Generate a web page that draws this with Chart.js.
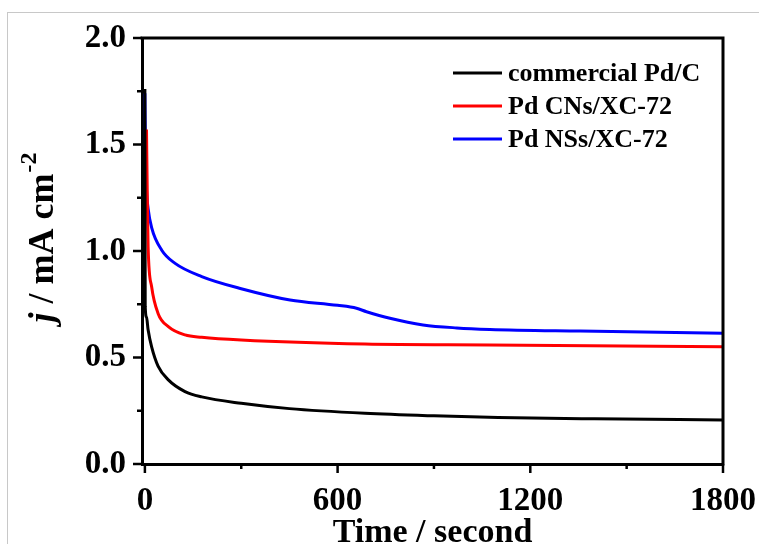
<!DOCTYPE html>
<html>
<head>
<meta charset="utf-8">
<script src="https://cdn.jsdelivr.net/npm/chart.js@4"></script>
<style>
  body { margin: 0; background: #fff; }
  #wrap { position: relative; width: 759px; height: 544px; }
  #frame { position: absolute; left: 7px; top: 12px; width: 760px; height: 540px;
           border-top: 1px solid #c8c8c8; border-left: 1px solid #c8c8c8; }
  canvas { position: absolute; left: 0; top: 0; }
</style>
</head>
<body>
<div id="wrap">
  <div id="frame"></div>
  <canvas id="ctChart" width="759" height="544"></canvas>
</div>
<script>
// Chronoamperometry curves (time in s, current density in mA cm-2)
const seriesLabels = ["commercial Pd/C", "Pd CNs/XC-72", "Pd NSs/XC-72"];
const seriesColors = ["#000000", "#ff0000", "#0000ff"];

const pdcTime = [0, 1, 5, 10, 21, 41, 73, 125, 177, 300, 450, 685, 900, 1100, 1400, 1800];
const pdcJ    = [1.76, 0.74, 0.69, 0.63, 0.55, 0.46, 0.395, 0.34, 0.315, 0.285, 0.26, 0.238, 0.226, 0.218, 0.212, 0.207];

const cnsTime = [5, 8, 10, 21, 41, 73, 125, 177, 300, 685, 1074, 1800];
const cnsJ    = [1.57, 1.2, 1.02, 0.832, 0.707, 0.645, 0.606, 0.595, 0.582, 0.563, 0.559, 0.551];

const nssTime = [0, 2, 5, 10, 21, 52, 93, 177, 300, 452, 600, 659, 690, 763, 866, 971, 1074, 1355, 1800];
const nssJ    = [1.74, 1.45, 1.29, 1.2, 1.11, 1.005, 0.943, 0.88, 0.823, 0.77, 0.745, 0.731, 0.715, 0.684, 0.653, 0.639, 0.632, 0.624, 0.614];

const xTicks = [0, 600, 1200, 1800];
const xMinorTicks = [300, 900, 1500];
const yTicks = [0, 0.5, 1.0, 1.5, 2.0];
const yMinorTicks = [0.25, 0.75, 1.25, 1.75];

const serif = "'Liberation Serif', 'Times New Roman', serif";

function toPoints(t, j) {
  return t.map((v, i) => ({ x: v, y: j[i] }));
}

// frame, ticks, axis titles and legend drawn on top of the chart
const decorPlugin = {
  id: "decor",
  afterDraw(chart) {
    const c = chart.ctx;
    const area = chart.chartArea;
    const xs = chart.scales.x;
    const ys = chart.scales.y;
    c.save();
    c.strokeStyle = "#000";
    c.lineWidth = 3;
    // top and right frame
    c.beginPath();
    c.moveTo(area.left - 1.5, area.top);
    c.lineTo(area.right, area.top);
    c.lineTo(area.right, area.bottom + 1.5);
    c.stroke();

    // x ticks
    c.lineWidth = 2.5;
    for (const v of xTicks.concat(xMinorTicks)) {
      const px = xs.getPixelForValue(v);
      const len = xTicks.includes(v) ? 9 : 5;
      c.beginPath();
      c.moveTo(px, area.bottom);
      c.lineTo(px, area.bottom + len);
      c.stroke();
    }
    // y ticks
    for (const v of yTicks.concat(yMinorTicks)) {
      const py = ys.getPixelForValue(v);
      const len = yTicks.includes(v) ? 9 : 5;
      c.beginPath();
      c.moveTo(area.left, py);
      c.lineTo(area.left - len, py);
      c.stroke();
    }

    // x title
    c.fillStyle = "#000";
    c.font = "bold 34px " + serif;
    c.textAlign = "center";
    c.textBaseline = "alphabetic";
    c.fillText("Time / second", (area.left + area.right) / 2, 542);

    // y title: j / mA cm-2, rotated
    c.save();
    c.translate(53, 238);
    c.rotate(-Math.PI / 2);
    c.textAlign = "left";
    const fJ = "italic bold 36px " + serif;
    const fMain = "bold 36px " + serif;
    const fSup = "bold 24px " + serif;
    c.font = fJ; const wJ = c.measureText("j").width;
    c.font = fMain; const wMain = c.measureText(" / mA cm").width;
    c.font = fSup; const wSup = c.measureText("-2").width;
    let x0 = -(wJ + wMain + wSup) / 2;
    c.font = fJ; c.fillText("j", x0, 0); x0 += wJ;
    c.font = fMain; c.fillText(" / mA cm", x0, 0); x0 += wMain;
    c.font = fSup; c.fillText("-2", x0 + 1, -17);
    c.restore();

    // legend
    c.font = "bold 26px " + serif;
    c.textAlign = "left";
    c.textBaseline = "middle";
    chart.data.datasets.forEach((ds, i) => {
      const y = 73 + i * 33;
      c.strokeStyle = ds.borderColor;
      c.lineWidth = 3;
      c.beginPath();
      c.moveTo(453, y);
      c.lineTo(502, y);
      c.stroke();
      c.fillStyle = "#000";
      c.fillText(ds.label, 508, y + 1);
    });
    c.restore();
  }
};

const ctx = document.getElementById("ctChart");

new Chart(ctx, {
  type: "line",
  data: {
    datasets: [
      { label: seriesLabels[0], data: toPoints(pdcTime, pdcJ), borderColor: seriesColors[0] },
      { label: seriesLabels[1], data: toPoints(cnsTime, cnsJ), borderColor: seriesColors[1] },
      { label: seriesLabels[2], data: toPoints(nssTime, nssJ), borderColor: seriesColors[2] }
    ]
  },
  options: {
    responsive: false,
    animation: false,
    layout: { padding: { top: 38, right: 36, left: 0, bottom: 0 } },
    elements: {
      line: { borderWidth: 3, cubicInterpolationMode: "monotone", fill: false },
      point: { radius: 0, hoverRadius: 0 }
    },
    plugins: {
      legend: { display: false },
      tooltip: { enabled: false }
    },
    scales: {
      x: {
        type: "linear",
        min: -9,
        max: 1800,
        grid: { display: false, drawTicks: false },
        border: { display: true, color: "#000", width: 3 },
        afterBuildTicks: (axis) => { axis.ticks = xTicks.map(v => ({ value: v })); },
        afterFit: (axis) => {
          axis.height = 80;
          axis.paddingLeft = 0;
          axis.paddingRight = 0;
        },
        ticks: {
          padding: 18,
          color: "#000",
          maxRotation: 0,
          font: { family: serif, size: 33, weight: "bold" },
          callback: (v) => String(v)
        }
      },
      y: {
        min: 0,
        max: 2.0,
        grid: { display: false, drawTicks: false },
        border: { display: true, color: "#000", width: 3 },
        afterBuildTicks: (axis) => { axis.ticks = yTicks.map(v => ({ value: v })); },
        afterFit: (axis) => {
          axis.width = 142;
          axis.paddingTop = 0;
          axis.paddingBottom = 0;
        },
        ticks: {
          padding: 16,
          color: "#000",
          font: { family: serif, size: 33, weight: "bold" },
          callback: (v) => v.toFixed(1)
        }
      }
    }
  },
  plugins: [decorPlugin]
});
</script>
</body>
</html>
